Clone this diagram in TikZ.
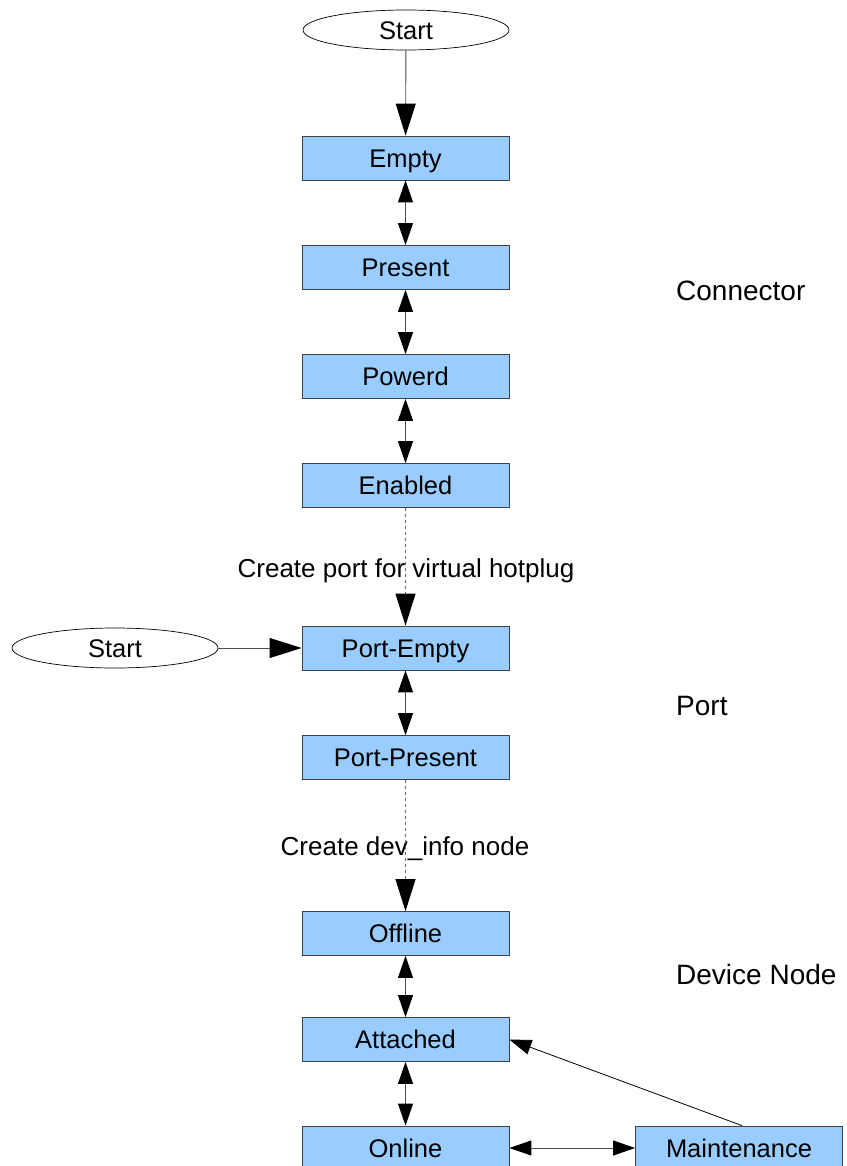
\documentclass[tikz,border=0pt]{standalone}
\usepackage{fontspec}
\setmainfont{Liberation Sans}
\usetikzlibrary{arrows.meta,shapes.geometric}
\definecolor{boxblue}{HTML}{99CCFF}
\begin{document}
\begin{tikzpicture}[x=1pt,y=-1pt,
  state/.style={draw=black!75, fill=boxblue, minimum width=207pt, minimum height=44pt,
    inner sep=0pt, line width=0.8pt, text height=18.3pt, text depth=0pt,
    font=\fontsize{25.5}{30}\selectfont},
  startnode/.style={ellipse, draw=black, fill=white, minimum width=206pt, minimum height=40pt,
    inner sep=0pt, line width=0.7pt, text height=18.3pt, text depth=0pt,
    font=\fontsize{25.5}{30}\selectfont},
  conn/.style={draw=black!70, line width=0.9pt},
  bigtip/.style={-{Triangle[length=32pt,width=20pt,color=black]}},
  smalltip/.style={-{Triangle[length=22pt,width=15pt,color=black]}},
  dbl/.style={{Triangle[length=22pt,width=15pt,color=black]}-{Triangle[length=22pt,width=15pt,color=black]}},
  dashedconn/.style={draw=black!60, dash pattern=on 3pt off 3pt, line width=0.9pt},
  edgelabel/.style={inner sep=0pt, text height=18.6pt, text depth=0pt, font=\fontsize{26}{30}\selectfont},
  grouplabel/.style={inner sep=0pt, anchor=west, text height=20pt, text depth=0pt, font=\fontsize{28}{32}\selectfont}
]
\useasboundingbox (0,0) rectangle (846,1166);

\node[startnode] (start1) at (406,30) {Start};
\node[state] (empty) at (405.5,158) {Empty};
\node[state] (present) at (405.5,267.5) {Present};
\node[state] (powerd) at (405.5,376.5) {Powerd};
\node[state] (enabled) at (405.5,485.5) {Enabled};
\node[state] (portempty) at (405.5,648) {Port-Empty};
\node[startnode] (start2) at (115,648) {Start};
\node[state] (portpresent) at (405.5,757.5) {Port-Present};
\node[state] (offline) at (405.5,933.5) {Offline};
\node[state] (attached) at (405.5,1039.5) {Attached};
\node[state] (online) at (405.5,1148) {Online};
\node[state] (maintenance) at (739,1148) {Maintenance};

\node[edgelabel] (lbl1) at (406,568) {Create port for virtual hotplug};
\node[edgelabel] (lbl2) at (405,846) {Create dev\_info node};

\node[grouplabel] (gconn) at (676,290) {Connector};
\node[grouplabel] (gport) at (676,705) {Port};
\node[grouplabel] (gdev) at (676,974) {Device Node};

\draw[conn,bigtip] (start1) -- (empty);
\draw[conn,dbl] (empty) -- (present);
\draw[conn,dbl] (present) -- (powerd);
\draw[conn,dbl] (powerd) -- (enabled);
\draw[dashedconn,bigtip] (enabled) -- (portempty);
\draw[conn,bigtip] (start2) -- (portempty);
\draw[conn,dbl] (portempty) -- (portpresent);
\draw[dashedconn,bigtip] (portpresent) -- (offline);
\draw[conn,dbl] (offline) -- (attached);
\draw[conn,dbl] (attached) -- (online);
\draw[conn,dbl] (online) -- (maintenance);
\draw[conn,draw=black,line width=0.8pt,smalltip] ([xshift=3pt]maintenance.north) -- (attached.east);
\end{tikzpicture}
\end{document}
